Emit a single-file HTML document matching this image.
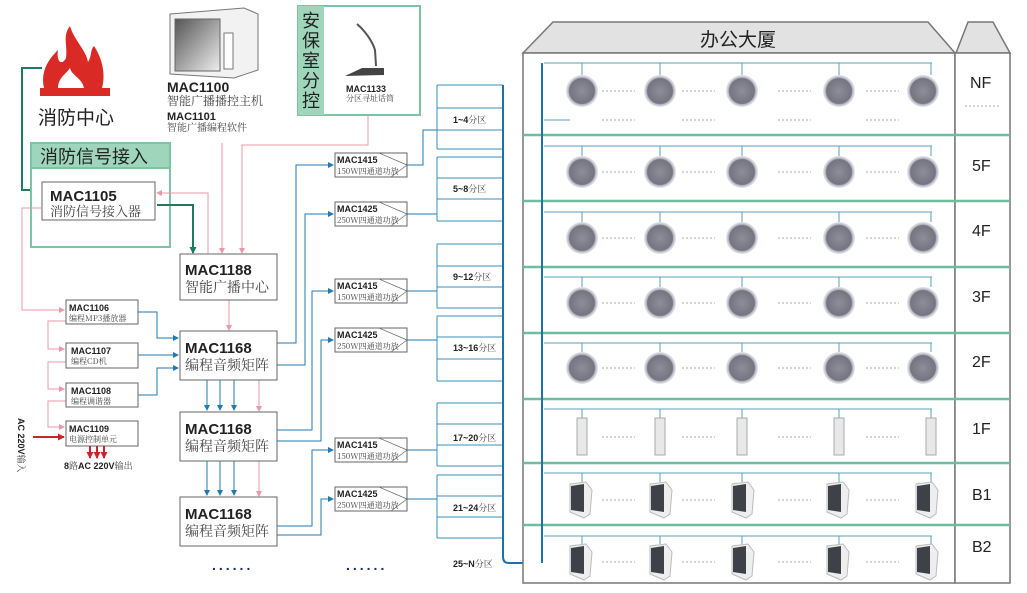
<!DOCTYPE html>
<html><head><meta charset="utf-8"><style>
body{margin:0;background:#fff;}
svg{display:block;font-family:"Liberation Sans","Noto Sans CJK SC",sans-serif;}
.b{font-weight:bold;fill:#222;}
.c{fill:#444;font-family:"Noto Serif CJK SC","Noto Sans CJK SC",serif;}
</style></head><body>
<svg width="1027" height="593" viewBox="0 0 1027 593" xmlns="http://www.w3.org/2000/svg">
<defs>
<radialGradient id="sp" cx="50%" cy="50%" r="50%"><stop offset="0" stop-color="#8e8e9a"/><stop offset="0.78" stop-color="#757582"/><stop offset="0.86" stop-color="#bcbcc8"/><stop offset="1" stop-color="#e8e8ee"/></radialGradient>
<linearGradient id="scr" x1="0" y1="0" x2="1" y2="1"><stop offset="0" stop-color="#555"/><stop offset="1" stop-color="#eee"/></linearGradient>
<marker id="ab" markerUnits="userSpaceOnUse" markerWidth="6" markerHeight="6" refX="5" refY="3" orient="auto"><path d="M0,0L6,3L0,6z" fill="#1f7bb0"/></marker>
<marker id="ap" markerUnits="userSpaceOnUse" markerWidth="6" markerHeight="6" refX="5" refY="3" orient="auto"><path d="M0,0L6,3L0,6z" fill="#e89aa8"/></marker>
<marker id="ag" markerUnits="userSpaceOnUse" markerWidth="7" markerHeight="7" refX="6" refY="3.5" orient="auto"><path d="M0,0L7,3.5L0,7z" fill="#1f7a60"/></marker>
<marker id="ar" markerUnits="userSpaceOnUse" markerWidth="7" markerHeight="7" refX="6" refY="3.5" orient="auto"><path d="M0,0L7,3.5L0,7z" fill="#c8262b"/></marker>
</defs>

<!-- fire -->
<path d="M44,88 C40,70 50,58 58,50 C56,62 62,66 66,58 C68,46 62,36 70,26 C74,40 86,50 88,62 C92,56 90,50 94,46 C102,58 106,74 102,88 Z" fill="#d92a26"/>
<path d="M58,88 C58,78 66,74 70,68 C72,76 82,78 84,88 Z" fill="#fff"/>
<rect x="40" y="88" width="70" height="8" fill="#d92a26"/>
<text x="38" y="124" font-size="19" fill="#222">消防中心</text>
<polyline points="42,68 22,68 22,190 40,190" fill="none" stroke="#1f7a60" stroke-width="2" marker-end="url(#ag)"/>

<!-- fire signal box -->
<rect x="31" y="143" width="139" height="104" fill="#fff" stroke="#7cc4a4" stroke-width="2"/>
<rect x="31" y="143" width="139" height="25" fill="#9fd6bb" stroke="#7cc4a4" stroke-width="2"/>
<text x="40" y="163" font-size="18" fill="#222">消防信号接入</text>
<rect x="42" y="182" width="113" height="38" fill="#fff" stroke="#666"/>
<text x="50" y="201" font-size="15" class="b">MAC1105</text>
<text x="50" y="216" font-size="13" class="c">消防信号接入器</text>

<!-- monitor -->
<path d="M170,14 L244,8 L258,14 L258,70 L234,78 L170,74 Z" fill="#f2f2f2" stroke="#777"/>
<rect x="175" y="19" width="45" height="52" fill="url(#scr)" stroke="#666"/>
<rect x="224" y="33" width="9" height="36" fill="#fff" stroke="#777"/>
<text x="167" y="92" font-size="14" class="b">MAC1100</text>
<text x="167" y="105" font-size="12" class="c">智能广播播控主机</text>
<text x="167" y="120" font-size="11" class="b">MAC1101</text>
<text x="167" y="131" font-size="10" class="c">智能广播编程软件</text>

<!-- security -->
<rect x="298" y="6" width="122" height="109" fill="#fff" stroke="#7cc4a4" stroke-width="2"/>
<rect x="298" y="6" width="26" height="109" fill="#9fd6bb"/>
<text font-size="18" fill="#222"><tspan x="302" y="27">安</tspan><tspan x="302" y="47">保</tspan><tspan x="302" y="67">室</tspan><tspan x="302" y="87">分</tspan><tspan x="302" y="107">控</tspan></text>
<path d="M357,24 C364,30 372,40 375,50 L376,66" fill="none" stroke="#555" stroke-width="2"/>
<path d="M345,76 L362,68 L384,68 L384,75 Z" fill="#444"/>
<text x="346" y="92" font-size="9" class="b">MAC1133</text>
<text x="346" y="101" font-size="8" class="c">分区寻址话筒</text>

<!-- pink lines -->
<g fill="none" stroke="#e89aa8" stroke-width="1">
<polyline points="222,143 222,253" marker-end="url(#ap)"/>
<polyline points="368,115 368,145 242,145 242,253" marker-end="url(#ap)"/>
<polyline points="208,253 208,193 157,193" marker-end="url(#ap)"/>
<polyline points="42,208 22,208 22,310 64,310" marker-end="url(#ap)"/>
<polyline points="229,300 229,330" marker-end="url(#ap)"/>
<polyline points="66,321 48,321 48,349 64,349" marker-end="url(#ap)"/>
<polyline points="66,362 48,362 48,389 64,389" marker-end="url(#ap)"/>
<polyline points="66,401 48,401 48,427 64,427" marker-end="url(#ap)"/>
<polyline points="259,380 259,411" marker-end="url(#ap)"/>
<polyline points="259,461 259,496" marker-end="url(#ap)"/>
</g>
<polyline points="157,205 193,205 193,253" fill="none" stroke="#1f7a60" stroke-width="2" marker-end="url(#ag)"/>

<!-- central boxes -->
<g fill="#fff" stroke="#666">
<rect x="180" y="254" width="97" height="46"/>
<rect x="180" y="331" width="97" height="49"/>
<rect x="180" y="412" width="97" height="49"/>
<rect x="180" y="497" width="97" height="49"/>
<rect x="66" y="300" width="72" height="24"/>
<rect x="66" y="343" width="72" height="25"/>
<rect x="66" y="383" width="72" height="24"/>
<rect x="66" y="421" width="72" height="25"/>
</g>
<text x="185" y="275" font-size="15" class="b">MAC1188</text>
<text x="185" y="292" font-size="14" class="c">智能广播中心</text>
<text x="185" y="353" font-size="15" class="b">MAC1168</text>
<text x="185" y="370" font-size="14" class="c">编程音频矩阵</text>
<text x="185" y="434" font-size="15" class="b">MAC1168</text>
<text x="185" y="451" font-size="14" class="c">编程音频矩阵</text>
<text x="185" y="519" font-size="15" class="b">MAC1168</text>
<text x="185" y="536" font-size="14" class="c">编程音频矩阵</text>
<text x="69" y="311" font-size="9" class="b">MAC1106</text><text x="69" y="321" font-size="8" class="c">编程MP3播放器</text>
<text x="71" y="354" font-size="9" class="b">MAC1107</text><text x="71" y="364" font-size="8" class="c">编程CD机</text>
<text x="71" y="394" font-size="9" class="b">MAC1108</text><text x="71" y="404" font-size="8" class="c">编程调谐器</text>
<text x="69" y="432" font-size="9" class="b">MAC1109</text><text x="69" y="442" font-size="8" class="c">电源控制单元</text>

<g fill="none" stroke="#1f7bb0" stroke-width="1">
<polyline points="138,312 157,312 157,338 178,338" marker-end="url(#ab)"/>
<polyline points="138,355 178,355" marker-end="url(#ab)"/>
<polyline points="138,395 157,395 157,368 178,368" marker-end="url(#ab)"/>
<polyline points="207,380 207,410" marker-end="url(#ab)"/><polyline points="220,380 220,410" marker-end="url(#ab)"/><polyline points="234,380 234,410" marker-end="url(#ab)"/>
<polyline points="207,461 207,495" marker-end="url(#ab)"/><polyline points="220,461 220,495" marker-end="url(#ab)"/><polyline points="234,461 234,495" marker-end="url(#ab)"/>
<polyline points="277,343 296,343 296,165 333,165" marker-end="url(#ab)"/>
<polyline points="277,365 305,365 305,214 333,214" marker-end="url(#ab)"/>
<polyline points="277,430 312,430 312,291 333,291" marker-end="url(#ab)"/>
<polyline points="277,441 321,441 321,340 333,340" marker-end="url(#ab)"/>
<polyline points="277,526 312,526 312,450 333,450" marker-end="url(#ab)"/>
<polyline points="277,535 321,535 321,499 333,499" marker-end="url(#ab)"/>
<polyline points="407,165 423,165 423,130 437,130"/>
<polyline points="407,214 437,214"/>
<polyline points="407,291 437,291"/>
<polyline points="407,340 437,340"/>
<polyline points="407,450 437,450"/>
<polyline points="407,499 437,499"/>
</g>

<!-- AC -->
<text transform="translate(18,418) rotate(90)" font-size="9" class="b">AC 220V<tspan class="c" font-weight="normal">输入</tspan></text>
<line x1="33" y1="437" x2="64" y2="437" stroke="#c8262b" stroke-width="2" marker-end="url(#ar)"/>
<g stroke="#c8262b" stroke-width="2"><line x1="90" y1="446" x2="90" y2="458" marker-end="url(#ar)"/><line x1="97" y1="446" x2="97" y2="458" marker-end="url(#ar)"/><line x1="104" y1="446" x2="104" y2="458" marker-end="url(#ar)"/></g>
<text x="64" y="469" font-size="9" class="b">8<tspan class="c" font-weight="normal">路</tspan>AC 220V<tspan class="c" font-weight="normal">输出</tspan></text>

<!-- amps -->
<g font-size="9">
<g transform="translate(335,153)"><rect width="72" height="24" fill="#fff" stroke="#666"/><path d="M44,0 L72,12 L56,24" fill="none" stroke="#666" stroke-width=".7"/><text x="2" y="10" class="b">MAC1415</text><text x="2" y="21" class="c" font-size="8">150W四通道功放</text></g>
<g transform="translate(335,202)"><rect width="72" height="24" fill="#fff" stroke="#666"/><path d="M44,0 L72,12 L56,24" fill="none" stroke="#666" stroke-width=".7"/><text x="2" y="10" class="b">MAC1425</text><text x="2" y="21" class="c" font-size="8">250W四通道功放</text></g>
<g transform="translate(335,279)"><rect width="72" height="24" fill="#fff" stroke="#666"/><path d="M44,0 L72,12 L56,24" fill="none" stroke="#666" stroke-width=".7"/><text x="2" y="10" class="b">MAC1415</text><text x="2" y="21" class="c" font-size="8">150W四通道功放</text></g>
<g transform="translate(335,328)"><rect width="72" height="24" fill="#fff" stroke="#666"/><path d="M44,0 L72,12 L56,24" fill="none" stroke="#666" stroke-width=".7"/><text x="2" y="10" class="b">MAC1425</text><text x="2" y="21" class="c" font-size="8">250W四通道功放</text></g>
<g transform="translate(335,438)"><rect width="72" height="24" fill="#fff" stroke="#666"/><path d="M44,0 L72,12 L56,24" fill="none" stroke="#666" stroke-width=".7"/><text x="2" y="10" class="b">MAC1415</text><text x="2" y="21" class="c" font-size="8">150W四通道功放</text></g>
<g transform="translate(335,487)"><rect width="72" height="24" fill="#fff" stroke="#666"/><path d="M44,0 L72,12 L56,24" fill="none" stroke="#666" stroke-width=".7"/><text x="2" y="10" class="b">MAC1425</text><text x="2" y="21" class="c" font-size="8">250W四通道功放</text></g>
</g>

<!-- zones -->
<g fill="none" stroke="#3a8fb8" stroke-width="1">
<path d="M437,85V149M437,85H503M437,108H503M437,130H503M437,149H503"/>
<path d="M437,157V221M437,157H503M437,178H503M437,199H503M437,221H503"/>
<path d="M437,244V308M437,244H503M437,266H503M437,287H503M437,308H503"/>
<path d="M437,316V381M437,316H503M437,337H503M437,359H503M437,381H503"/>
<path d="M437,403V466M437,403H503M437,424H503M437,445H503M437,466H503"/>
<path d="M437,475V538M437,475H503M437,496H503M437,517H503M437,538H503"/>
</g>
<path d="M503,85 V557 Q503,563 509,563 H536 Q542,563 542,557 V63" fill="none" stroke="#1f6fa8" stroke-width="2"/>
<g font-size="9"><text x="453" y="123" class="b">1~4<tspan class="c" font-weight="normal">分区</tspan></text>
<text x="453" y="192" class="b">5~8<tspan class="c" font-weight="normal">分区</tspan></text>
<text x="453" y="280" class="b">9~12<tspan class="c" font-weight="normal">分区</tspan></text>
<text x="453" y="351" class="b">13~16<tspan class="c" font-weight="normal">分区</tspan></text>
<text x="453" y="441" class="b">17~20<tspan class="c" font-weight="normal">分区</tspan></text>
<text x="453" y="511" class="b">21~24<tspan class="c" font-weight="normal">分区</tspan></text>
<text x="453" y="567" class="b">25~N<tspan class="c" font-weight="normal">分区</tspan></text></g>
<text x="212" y="570" font-size="14" fill="#1a2a6a" letter-spacing="3" font-weight="bold">......</text>
<text x="346" y="570" font-size="14" fill="#1a2a6a" letter-spacing="3" font-weight="bold">......</text>

<!-- building -->
<path d="M523,53 L553,22 L928,22 L955,53 Z" fill="#e2e2e2" stroke="#777" stroke-width="1.5"/>
<path d="M956,53 L968,22 L993,22 L1010,53 Z" fill="#e2e2e2" stroke="#777" stroke-width="1.5"/>
<text x="700" y="46" font-size="19" fill="#222">办公大厦</text>
<rect x="523" y="53" width="432" height="530" fill="#fff" stroke="#777" stroke-width="1.5"/>
<rect x="955" y="53" width="55" height="530" fill="#fff" stroke="#777" stroke-width="1.5"/>
<g stroke="#6dbf9c" stroke-width="2.5">
<line x1="523" y1="135" x2="1010" y2="135"/><line x1="523" y1="201" x2="1010" y2="201"/><line x1="523" y1="267" x2="1010" y2="267"/><line x1="523" y1="333" x2="1010" y2="333"/><line x1="523" y1="399" x2="1010" y2="399"/><line x1="523" y1="463" x2="1010" y2="463"/><line x1="523" y1="525" x2="1010" y2="525"/>
</g>
<path d="M542,63 V563" stroke="#1f6fa8" stroke-width="2" fill="none"/>
<g font-size="16" fill="#222"><text x="970" y="88">NF</text><text x="972" y="171">5F</text><text x="972" y="236">4F</text><text x="972" y="302">3F</text><text x="972" y="367">2F</text><text x="972" y="434">1F</text><text x="972" y="500">B1</text><text x="972" y="552">B2</text></g>
<line x1="965" y1="106" x2="1000" y2="106" stroke="#aaa" stroke-dasharray="2,2"/>

<g fill="none" stroke="#5aa0b8" stroke-width="1">
<path d="M544,63H932M582,63V75M660,63V75M742,63V75M839,63V75M931,63V75M544,120H570"/>
<path d="M544,146H932M582,146V156M660,146V156M742,146V156M839,146V156M931,146V156"/>
<path d="M544,212H932M582,212V222M660,212V222M742,212V222M839,212V222M931,212V222"/>
<path d="M544,277H932M582,277V287M660,277V287M742,277V287M839,277V287M931,277V287"/>
<path d="M544,343H932M582,343V352M660,343V352M742,343V352M839,343V352M931,343V352"/>
<path d="M544,409H932M582,409V418M660,409V418M742,409V418M839,409V418M931,409V418"/>
<path d="M544,473H932M582,473V482M660,473V482M742,473V482M839,473V482M931,473V482"/>
<path d="M544,536H932M582,536V544M660,536V544M742,536V544M839,536V544M931,536V544"/>
</g>
<g stroke="#aaa" stroke-dasharray="2,2">
<path d="M602,91H635M682,91H715M778,91H811M866,91H899M602,120H635M682,120H715M778,120H811M866,120H899"/>
<path d="M602,172H635M682,172H715M778,172H811M866,172H899"/>
<path d="M602,238H635M682,238H715M778,238H811M866,238H899"/>
<path d="M602,303H635M682,303H715M778,303H811M866,303H899"/>
<path d="M602,368H635M682,368H715M778,368H811M866,368H899"/>
<path d="M602,437H635M682,437H715M778,437H811M866,437H899"/>
<path d="M602,500H635M682,500H715M778,500H811M866,500H899"/>
<path d="M602,562H635M682,562H715M778,562H811M866,562H899"/>
</g>
<g fill="url(#sp)">
<circle cx="582" cy="91" r="16"/><circle cx="660" cy="91" r="16"/><circle cx="742" cy="91" r="16"/><circle cx="839" cy="91" r="16"/><circle cx="923" cy="91" r="16"/>
<circle cx="582" cy="172" r="16"/><circle cx="660" cy="172" r="16"/><circle cx="742" cy="172" r="16"/><circle cx="839" cy="172" r="16"/><circle cx="923" cy="172" r="16"/>
<circle cx="582" cy="238" r="16"/><circle cx="660" cy="238" r="16"/><circle cx="742" cy="238" r="16"/><circle cx="839" cy="238" r="16"/><circle cx="923" cy="238" r="16"/>
<circle cx="582" cy="303" r="16"/><circle cx="660" cy="303" r="16"/><circle cx="742" cy="303" r="16"/><circle cx="839" cy="303" r="16"/><circle cx="923" cy="303" r="16"/>
<circle cx="582" cy="368" r="16"/><circle cx="660" cy="368" r="16"/><circle cx="742" cy="368" r="16"/><circle cx="839" cy="368" r="16"/><circle cx="923" cy="368" r="16"/>
</g>
<g fill="#e8e8e8" stroke="#aaa" stroke-width="1">
<rect x="577" y="418" width="10" height="37"/><rect x="655" y="418" width="10" height="37"/><rect x="737" y="418" width="10" height="37"/><rect x="834" y="418" width="10" height="37"/><rect x="926" y="418" width="10" height="37"/>
</g>
<g>
<g transform="translate(570,482)"><path d="M0,2 L16,0 L22,8 L20,32 L14,36 L0,30 Z" fill="#eee" stroke="#bbb"/><path d="M1,4 L14,2 L14,30 L1,28 Z" fill="#3e4248"/></g>
<g transform="translate(650,482)"><path d="M0,2 L16,0 L22,8 L20,32 L14,36 L0,30 Z" fill="#eee" stroke="#bbb"/><path d="M1,4 L14,2 L14,30 L1,28 Z" fill="#3e4248"/></g>
<g transform="translate(732,482)"><path d="M0,2 L16,0 L22,8 L20,32 L14,36 L0,30 Z" fill="#eee" stroke="#bbb"/><path d="M1,4 L14,2 L14,30 L1,28 Z" fill="#3e4248"/></g>
<g transform="translate(827,482)"><path d="M0,2 L16,0 L22,8 L20,32 L14,36 L0,30 Z" fill="#eee" stroke="#bbb"/><path d="M1,4 L14,2 L14,30 L1,28 Z" fill="#3e4248"/></g>
<g transform="translate(916,482)"><path d="M0,2 L16,0 L22,8 L20,32 L14,36 L0,30 Z" fill="#eee" stroke="#bbb"/><path d="M1,4 L14,2 L14,30 L1,28 Z" fill="#3e4248"/></g>
</g>
<g transform="translate(0,62)">
<g transform="translate(570,482)"><path d="M0,2 L16,0 L22,8 L20,32 L14,36 L0,30 Z" fill="#eee" stroke="#bbb"/><path d="M1,4 L14,2 L14,30 L1,28 Z" fill="#3e4248"/></g>
<g transform="translate(650,482)"><path d="M0,2 L16,0 L22,8 L20,32 L14,36 L0,30 Z" fill="#eee" stroke="#bbb"/><path d="M1,4 L14,2 L14,30 L1,28 Z" fill="#3e4248"/></g>
<g transform="translate(732,482)"><path d="M0,2 L16,0 L22,8 L20,32 L14,36 L0,30 Z" fill="#eee" stroke="#bbb"/><path d="M1,4 L14,2 L14,30 L1,28 Z" fill="#3e4248"/></g>
<g transform="translate(827,482)"><path d="M0,2 L16,0 L22,8 L20,32 L14,36 L0,30 Z" fill="#eee" stroke="#bbb"/><path d="M1,4 L14,2 L14,30 L1,28 Z" fill="#3e4248"/></g>
<g transform="translate(916,482)"><path d="M0,2 L16,0 L22,8 L20,32 L14,36 L0,30 Z" fill="#eee" stroke="#bbb"/><path d="M1,4 L14,2 L14,30 L1,28 Z" fill="#3e4248"/></g>
</g>
</svg>
</body></html>
